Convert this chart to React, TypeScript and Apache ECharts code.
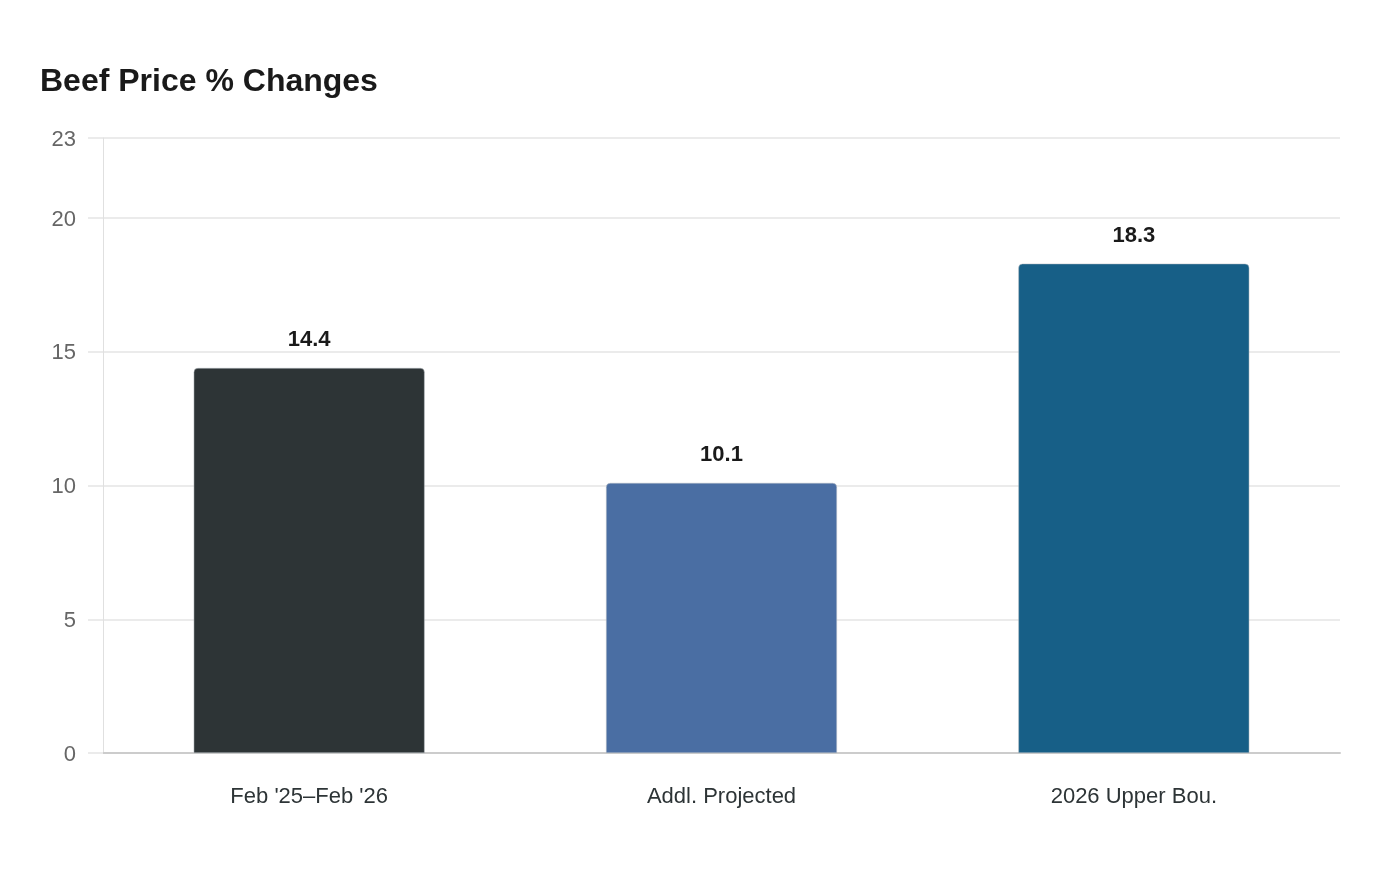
import { useEffect, useRef } from 'react';
import * as echarts from 'echarts';

const categories = ["Feb '25–Feb '26", 'Addl. Projected', '2026 Upper Bou.'];
const values = [14.4, 10.1, 18.3];
const barColors = ['#2d3436', '#4a6ea3', '#175f87'];

const App = () => {
  const chartRef = useRef<HTMLDivElement>(null);

  useEffect(() => {
    if (!chartRef.current) return;
    const chart = echarts.init(chartRef.current, null, { renderer: 'svg' });

    chart.setOption({
      animation: false,
      textStyle: { fontFamily: '"Liberation Sans", Arial, sans-serif' },
      title: {
        text: 'Beef Price % Changes',
        left: 35,
        top: 59,
        textStyle: { fontSize: 32, fontWeight: 'bold', color: '#1a1a1a' }
      },
      grid: { left: 103, right: 60, top: 138, bottom: 127 },
      xAxis: {
        type: 'category',
        data: categories,
        axisLine: { lineStyle: { color: '#cccccc', width: 2 } },
        axisTick: { show: false },
        axisLabel: { fontSize: 22, color: '#2d3436', margin: 31 }
      },
      yAxis: {
        type: 'value',
        min: 0,
        max: 23,
        interval: 5,
        axisLine: { show: true, lineStyle: { color: '#e0e0e0' } },
        axisTick: { show: true, length: 15, lineStyle: { color: '#ebebeb', width: 2 } },
        splitLine: { lineStyle: { color: '#ebebeb', width: 2 } },
        axisLabel: { fontSize: 22, color: '#666666', margin: 27 }
      },
      series: [
        {
          type: 'bar',
          barWidth: '56%',
          data: values.map((v, i) => ({
            value: v,
            itemStyle: { color: barColors[i] }
          })),
          itemStyle: {
            borderRadius: [4, 4, 0, 0],
            borderColor: '#b8bec4',
            borderWidth: 0.5
          },
          label: {
            show: true,
            position: 'top',
            distance: 18,
            fontSize: 22,
            fontWeight: 'bold',
            color: '#1a1a1a'
          }
        }
      ]
    });

    return () => chart.dispose();
  }, []);

  return (
    <div
      ref={chartRef}
      style={{ position: 'fixed', left: 0, top: 0, width: 1400, height: 880 }}
    />
  );
};

export default App;
